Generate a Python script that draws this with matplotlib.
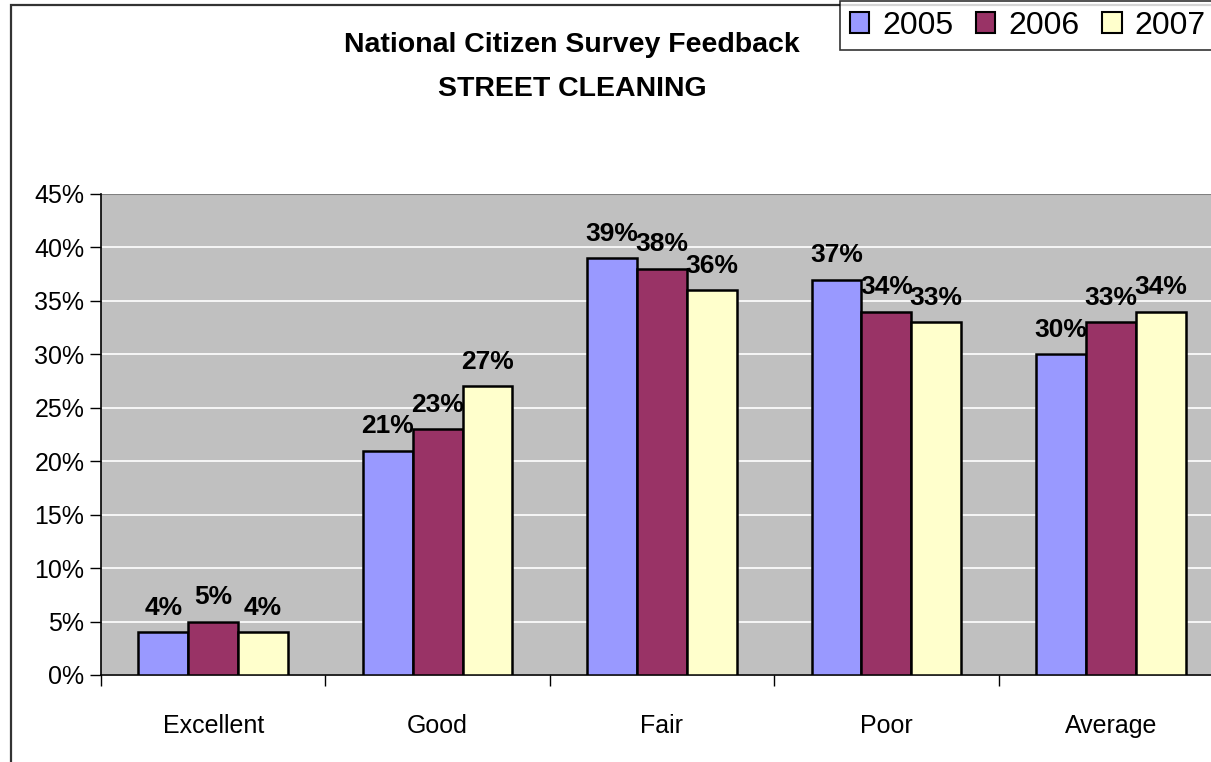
import matplotlib
matplotlib.use("Agg")
import matplotlib.pyplot as plt
import numpy as np
from matplotlib.patches import Rectangle, Patch

plt.rcParams['font.family'] = ['Liberation Sans', 'DejaVu Sans']

categories = ["Excellent", "Good", "Fair", "Poor", "Average"]
years = ["2005", "2006", "2007"]
values_2005 = [4, 21, 39, 37, 30]
values_2006 = [5, 23, 38, 34, 33]
values_2007 = [4, 27, 36, 33, 34]
series = [values_2005, values_2006, values_2007]
colors = ["#9999FF", "#993366", "#FFFFCC"]
y_ticks = [0, 5, 10, 15, 20, 25, 30, 35, 40, 45]

W, H = 1211, 762
fig = plt.figure(figsize=(W / 100, H / 100), dpi=100)

# outer chart border (continues past right/bottom edge)
fig.patches.append(Rectangle((11 / W, -0.1), 1.2, 1 - 5 / H + 0.1,
                             transform=fig.transFigure, fill=False,
                             edgecolor="#333333", linewidth=1.6, zorder=0))

left, right, top, bottom = 101, 1223, 194, 675
ax = fig.add_axes([left / W, 1 - bottom / H, (right - left) / W, (bottom - top) / H])
ax.set_facecolor("#C0C0C0")

x = np.arange(len(categories))
group = 1 / 1.5
bw = group / 3
for i, (vals, col, yr) in enumerate(zip(series, colors, years)):
    bars = ax.bar(x - group / 2 + bw * (i + 0.5), vals, width=bw, color=col,
                  edgecolor="black", linewidth=1.8, label=yr, zorder=3)
    ax.bar_label(bars, labels=[f"{v}%" for v in vals], padding=9,
                 fontsize=19, fontweight="bold", zorder=4)

ax.set_xlim(-0.5, len(categories) - 0.5)
ax.set_ylim(0, 45)
ax.set_yticks(y_ticks)
ax.set_yticklabels([f"{t}%" for t in y_ticks], fontsize=18)
ax.yaxis.grid(True, color="white", linewidth=1.2, zorder=1)
ax.set_axisbelow(True)

ax.set_xticks(x)
ax.set_xticklabels(categories, fontsize=18)
ax.set_xticks(np.arange(len(categories) + 1) - 0.5, minor=True)
ax.tick_params(axis="x", which="major", length=0, pad=28)
ax.tick_params(axis="x", which="minor", length=8, width=1, direction="out")
ax.tick_params(axis="y", length=8, width=1, direction="out", pad=4)

for s in ["top", "right"]:
    ax.spines[s].set_visible(False)
ax.spines["left"].set_linewidth(1.2)
ax.spines["bottom"].set_linewidth(1.2)
ax.axhline(45, color="#808080", linewidth=1.5, zorder=2)

fig.text(572 / W, 1 - 45 / H, "National Citizen Survey Feedback",
         ha="center", va="center", fontsize=20.5, fontweight="bold")
fig.text(572 / W, 1 - 89 / H, "STREET CLEANING",
         ha="center", va="center", fontsize=20.5, fontweight="bold")

handles = [Patch(facecolor=c, edgecolor="black", linewidth=1.5) for c in colors]
leg = fig.legend(handles, years, loc="upper left",
                 bbox_to_anchor=(840 / W, 1 - 1 / H), ncol=3, fontsize=23,
                 frameon=True, fancybox=False, edgecolor="black",
                 handlelength=0.62, handleheight=0.62, handletextpad=0.4,
                 columnspacing=0.7, borderpad=0.3, borderaxespad=0)
leg.get_frame().set_linewidth(1.2)

fig.savefig("out.png", dpi=100)
